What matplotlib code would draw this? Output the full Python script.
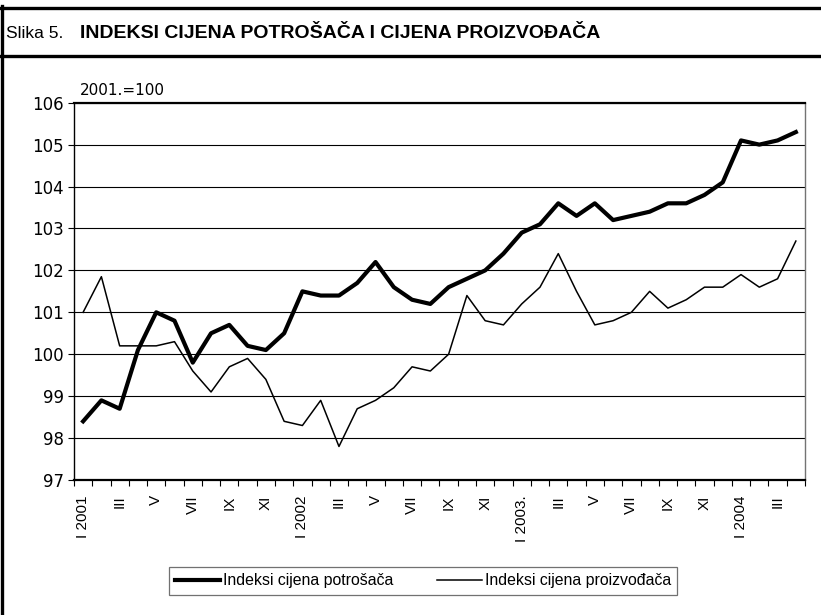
import numpy as np
import matplotlib.pyplot as plt
from matplotlib.lines import Line2D

# monthly indices, 2001.=100, January 2001 - April 2004
cpi = [98.4, 98.9, 98.7, 100.1, 101.0, 100.8, 99.8, 100.5, 100.7, 100.2,
       100.1, 100.5, 101.5, 101.4, 101.4, 101.7, 102.2, 101.6, 101.3, 101.2,
       101.6, 101.8, 102.0, 102.4, 102.9, 103.1, 103.6, 103.3, 103.6, 103.2,
       103.3, 103.4, 103.6, 103.6, 103.8, 104.1, 105.1, 105.0, 105.1, 105.3]
ppi = [101.0, 101.85, 100.2, 100.2, 100.2, 100.3, 99.6, 99.1, 99.7, 99.9,
       99.4, 98.4, 98.3, 98.9, 97.8, 98.7, 98.9, 99.2, 99.7, 99.6,
       100.0, 101.4, 100.8, 100.7, 101.2, 101.6, 102.4, 101.5, 100.7, 100.8,
       101.0, 101.5, 101.1, 101.3, 101.6, 101.6, 101.9, 101.6, 101.8, 102.7]
tick_labels = ['I 2001', 'III', 'V', 'VII', 'IX', 'XI',
               'I 2002', 'III', 'V', 'VII', 'IX', 'XI',
               'I 2003.', 'III', 'V', 'VII', 'IX', 'XI',
               'I 2004', 'III']

narrow = ['Liberation Sans Narrow', 'DejaVu Sans Condensed', 'Liberation Sans']

fig = plt.figure(figsize=(8.21, 6.15), dpi=100)
ax = fig.add_axes([0.0901, 0.2195, 0.8904, 0.6135])

x = np.arange(len(cpi))
ax.plot(x, cpi, color='black', lw=3.0, label='Indeksi cijena potrošača')
ax.plot(x, ppi, color='black', lw=1.1, label='Indeksi cijena proizvođača')

ax.set_xlim(-0.5, len(cpi) - 0.5)
ax.set_ylim(97, 106)
ax.set_yticks(range(97, 107))
ax.grid(axis='y', color='black', lw=0.8)
ax.set_axisbelow(True)

ax.set_xticks(x[::2])
ax.set_xticklabels(tick_labels, rotation=90, family='Liberation Sans',
                   fontsize=11, va='top')
ax.set_xticks(np.arange(-0.5, len(cpi)), minor=True)
ax.tick_params(axis='x', which='major', length=0, pad=11)
ax.tick_params(axis='x', which='minor', length=4, width=0.8, direction='out')
ax.tick_params(axis='y', length=4, width=0.8, labelsize=12, pad=3)

ax.spines['top'].set_linewidth(1.6)
ax.spines['bottom'].set_linewidth(1.6)
ax.spines['left'].set_linewidth(1.0)
ax.spines['right'].set_color('0.45')
ax.spines['right'].set_linewidth(1.0)

ax.text(0.008, 1.012, '2001.=100', transform=ax.transAxes, fontsize=11,
        ha='left', va='bottom')

leg = fig.legend(loc='center', bbox_to_anchor=(423 / 821, 1 - 581 / 615),
                 ncol=2, frameon=True, fancybox=False, edgecolor='0.3',
                 prop={'family': 'Liberation Sans', 'size': 11.4},
                 handlelength=2.85, handletextpad=0.15, columnspacing=2.8,
                 borderpad=0.4)
leg.get_frame().set_linewidth(0.9)

# frame around the figure and the title band
fig.add_artist(Line2D([0.0, 1.0], [1 - 7.5 / 615] * 2, color='black', lw=2.4))
fig.add_artist(Line2D([0.0, 1.0], [1 - 55.5 / 615] * 2, color='black', lw=2.4))
fig.add_artist(Line2D([1.5 / 821] * 2, [0.0, 1 - 6 / 615], color='black', lw=2.4))

fig.text(6 / 821, 1 - 33 / 615, 'Slika 5.', family=narrow,
         fontsize=12.5, va='center', ha='left')
fig.text(80 / 821, 1 - 33 / 615, 'INDEKSI CIJENA POTROŠAČA I CIJENA PROIZVOĐAČA',
         family=narrow, weight='bold', fontsize=14, va='center', ha='left')

fig.savefig('out.png', dpi=100)
